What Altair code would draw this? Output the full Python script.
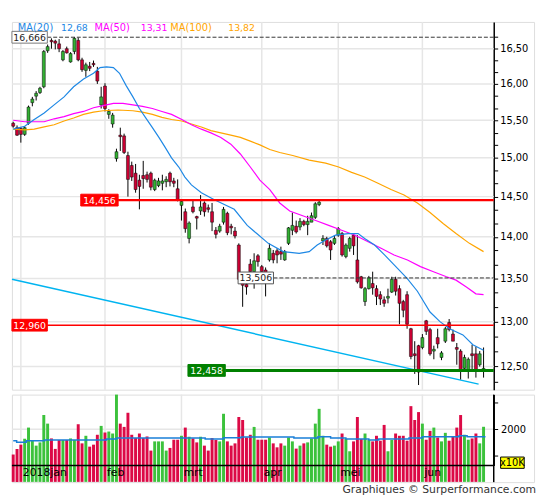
import altair as alt
import pandas as pd

# ---------------- data ----------------
opens = [15.46, 15.40, 15.39, 15.31, 15.46, 15.74, 15.83, 15.88, 15.96, 16.47,
         16.62, 16.61, 16.57, 16.34, 16.50, 16.31, 16.46, 16.62, 16.34, 16.19,
         16.25, 16.29, 16.18, 15.71, 15.97, 15.58, 15.45, 14.99, 15.30, 15.29,
         15.03, 14.90, 14.80, 14.71, 14.77, 14.78, 14.80, 14.59, 14.64, 14.67,
         14.69, 14.80, 14.70, 14.60, 14.39, 14.31, 13.98, 14.37, 14.25, 14.32,
         14.42, 14.36, 14.31, 14.08, 14.07, 14.18, 14.29, 14.13, 14.07, 13.90,
         13.47, 13.43, 13.67, 13.58, 13.77, 13.64, 13.60, 13.72, 13.80, 13.83,
         13.82, 13.72, 13.92, 14.08, 14.13, 14.12, 14.19, 14.15, 14.18, 14.24,
         14.40, 13.95, 13.98, 13.94, 13.92, 14.02, 14.04, 13.76, 13.86, 14.02,
         13.72, 13.52, 13.23, 13.38, 13.44, 13.38, 13.31, 13.25, 13.27, 13.34,
         13.49, 13.38, 13.23, 13.31, 12.92, 12.64, 12.73, 12.71, 13.01, 12.91,
         12.67, 12.82, 12.60, 12.78, 12.99, 12.86, 12.71, 12.67, 12.48, 12.45,
         12.64, 12.64, 12.52, 12.45]
highs = [15.48, 15.43, 15.41, 15.42, 15.70, 15.82, 15.90, 15.96, 16.48, 16.56,
         16.65, 16.63, 16.64, 16.48, 16.53, 16.45, 16.67, 16.66, 16.37, 16.30,
         16.31, 16.33, 16.24, 15.96, 16.01, 15.65, 15.60, 15.12, 15.40, 15.32,
         15.08, 14.95, 14.92, 14.78, 14.96, 14.82, 14.82, 14.73, 14.74, 14.78,
         14.76, 14.82, 14.74, 14.72, 14.47, 14.35, 14.19, 14.46, 14.26, 14.52,
         14.44, 14.40, 14.42, 14.12, 14.16, 14.37, 14.31, 14.16, 14.12, 13.92,
         13.52, 13.50, 13.73, 13.80, 13.79, 13.66, 13.63, 13.92, 13.84, 13.86,
         13.88, 13.84, 14.12, 14.30, 14.20, 14.23, 14.21, 14.26, 14.30, 14.43,
         14.46, 14.02, 14.00, 13.96, 14.02, 14.12, 14.06, 13.92, 14.00, 14.04,
         14.02, 13.53, 13.40, 13.53, 13.58, 13.42, 13.35, 13.29, 13.38, 13.52,
         13.52, 13.42, 13.25, 13.35, 12.93, 12.78, 12.74, 12.86, 13.02, 12.93,
         12.73, 12.92, 12.67, 12.94, 13.03, 12.91, 12.76, 12.69, 12.63, 12.60,
         12.74, 12.72, 12.67, 12.71]
lows = [15.40, 15.29, 15.20, 15.29, 15.44, 15.69, 15.77, 15.86, 15.94, 16.44,
        16.50, 16.49, 16.45, 16.32, 16.43, 16.30, 16.42, 16.32, 16.17, 16.10,
        16.18, 16.24, 16.00, 15.66, 15.62, 15.52, 15.40, 14.95, 15.09, 15.05,
        14.50, 14.70, 14.55, 14.34, 14.60, 14.68, 14.58, 14.57, 14.62, 14.58,
        14.62, 14.63, 14.62, 14.44, 14.20, 14.05, 13.92, 14.29, 14.09, 14.27,
        14.25, 14.30, 14.07, 13.98, 14.05, 14.15, 14.02, 14.03, 13.98, 13.48,
        13.17, 13.31, 13.50, 13.38, 13.64, 13.52, 13.29, 13.70, 13.68, 13.68,
        13.72, 13.71, 13.90, 14.02, 14.04, 14.08, 14.13, 14.02, 14.18, 14.22,
        14.38, 13.90, 13.87, 13.72, 13.90, 14.00, 13.76, 13.74, 13.82, 13.78,
        13.44, 13.38, 13.18, 13.37, 13.31, 13.19, 13.19, 13.17, 13.21, 13.33,
        13.30, 12.97, 13.05, 12.92, 12.58, 12.42, 12.30, 12.69, 12.85, 12.62,
        12.58, 12.70, 12.57, 12.76, 12.89, 12.78, 12.52, 12.36, 12.47, 12.37,
        12.45, 12.38, 12.50, 12.38]
closes = [15.42, 15.30, 15.31, 15.40, 15.68, 15.79, 15.87, 15.94, 16.46, 16.53,
          16.60, 16.58, 16.50, 16.46, 16.44, 16.43, 16.65, 16.34, 16.20, 16.27,
          16.22, 16.27, 16.04, 15.82, 15.66, 15.62, 15.57, 15.08, 15.28, 15.07,
          14.72, 14.75, 14.59, 14.63, 14.73, 14.72, 14.62, 14.71, 14.70, 14.70,
          14.72, 14.69, 14.67, 14.46, 14.44, 14.10, 14.17, 14.31, 14.23, 14.37,
          14.31, 14.34, 14.18, 14.03, 14.13, 14.34, 14.05, 14.11, 14.01, 13.49,
          13.42, 13.40, 13.58, 13.71, 13.70, 13.58, 13.52, 13.86, 13.72, 13.78,
          13.79, 13.82, 14.11, 14.14, 14.06, 14.19, 14.15, 14.19, 14.26, 14.41,
          14.43, 13.98, 13.89, 13.84, 13.98, 14.10, 13.78, 13.90, 13.98, 13.89,
          13.46, 13.39, 13.38, 13.51, 13.39, 13.29, 13.26, 13.21, 13.29, 13.49,
          13.35, 13.21, 13.13, 12.97, 12.61, 12.62, 12.44, 12.82, 12.89, 12.64,
          12.69, 12.75, 12.65, 12.92, 12.91, 12.78, 12.69, 12.46, 12.60, 12.58,
          12.62, 12.45, 12.64, 12.48]
volumes = [1038, 1251, 1412, 1637, 2060, 1562, 1375, 1498, 2536, 2210,
           1648, 1251, 1588, 1588, 1588, 1648, 1588, 2187, 1461, 1749,
           1337, 1412, 1787, 2124, 1873, 1910, 1835, 3311, 2210, 2086,
           2622, 1787, 1663, 1835, 1663, 1723, 1187, 1536, 1536, 1536,
           1187, 1288, 1599, 1599, 1749, 2060, 1712, 1648, 1498, 1712,
           1375, 1187, 1663, 1588, 1536, 2584, 1536, 1375, 1461, 2461,
           2348, 1685, 1787, 2086, 1599, 1599, 1599, 1685, 1461, 1311,
           1461, 1375, 1685, 1536, 1262, 1375, 1461, 1498, 1648, 2210,
           2771, 1749, 1412, 1337, 1375, 1536, 1835, 1626, 1161, 1536,
           2461, 1626, 1835, 1588, 1536, 1749, 1562, 2161, 1161, 1588,
           1835, 1749, 1749, 1562, 2873, 2348, 2648, 2210, 1599, 1936,
           2060, 1685, 1536, 1861, 1562, 1712, 2060, 2536, 1787, 1599,
           1648, 1835, 1461, 2090]

ma20_idx = [0, 3, 5.5, 8.1, 10.7, 13.3, 15.8, 18.4, 21, 22.7, 24.4, 26.2, 27.8, 29.5,
            31.3, 33, 34.7, 36.4, 38.1, 39.7, 41.4, 43.3, 44.9, 46.6, 49.2, 52.6, 57.8,
            61.2, 63.7, 66.7, 70.6, 74.8, 77.4, 79.5, 81.7, 84.3, 87.6, 90.2, 91.9, 94.5,
            97.1, 100.5, 103, 105.7, 109, 111.6, 114.1, 117.6, 120.2, 123]
ma20_val = [15.38, 15.42, 15.51, 15.60, 15.71, 15.82, 15.96, 16.07, 16.15, 16.23, 16.24,
            16.23, 16.15, 15.98, 15.82, 15.66, 15.53, 15.40, 15.27, 15.14, 15.00, 14.88,
            14.75, 14.65, 14.55, 14.46, 14.34, 14.14, 14.04, 13.92, 13.82, 13.80, 13.82,
            13.90, 13.96, 14.02, 14.04, 14.04, 13.98, 13.90, 13.78, 13.62, 13.50, 13.35,
            13.11, 13.00, 12.92, 12.85, 12.74, 12.68]
ma50_idx = [0, 3, 8.1, 10.7, 13.3, 15.8, 18.4, 21, 23.5, 26.2, 28.7, 31.3, 33.8, 36.4,
            38.9, 41.4, 44.1, 46.6, 49.2, 51.7, 54.3, 56.9, 59.4, 62, 64.5, 67.1, 69.7,
            72.3, 75.7, 79.1, 82.5, 85.9, 89.4, 92.8, 96.2, 99.6, 103.1, 106.5, 109.9,
            113.3, 115.8, 118.5, 121, 123]
ma50_val = [15.50, 15.48, 15.48, 15.52, 15.55, 15.59, 15.62, 15.67, 15.70, 15.73, 15.73,
            15.71, 15.69, 15.66, 15.62, 15.58, 15.51, 15.44, 15.38, 15.33, 15.27, 15.18,
            15.05, 14.88, 14.71, 14.59, 14.42, 14.32, 14.26, 14.20, 14.14, 14.08, 14.02,
            13.94, 13.86, 13.78, 13.72, 13.64, 13.58, 13.52, 13.48, 13.40, 13.32, 13.31]
ma100_idx = [0, 3, 5.5, 8.1, 10.7, 13.3, 15.8, 18.4, 21, 23.5, 27.4, 31.3, 33.8, 36.4,
             38.9, 41.4, 44.1, 46.6, 49.2, 51.7, 54.3, 56.9, 59.4, 62, 64.5, 67.1, 69.7,
             73.1, 77.4, 81.7, 85.1, 88.5, 91.9, 95.4, 98.8, 102.2, 105.7, 109, 112.5,
             115.8, 119.3, 123]
ma100_val = [15.38, 15.37, 15.38, 15.41, 15.44, 15.49, 15.53, 15.58, 15.61, 15.63, 15.64,
             15.63, 15.61, 15.58, 15.54, 15.51, 15.49, 15.45, 15.41, 15.36, 15.33, 15.30,
             15.27, 15.22, 15.17, 15.11, 15.07, 15.03, 14.97, 14.93, 14.88, 14.81, 14.75,
             14.67, 14.59, 14.52, 14.42, 14.30, 14.16, 14.04, 13.92, 13.82]

volma_idx = [0, 0.9, 3.4, 8.2, 24.4, 27, 50.2, 55, 59.6, 73.4, 79.7, 83, 87, 93,
             95.6, 103.5, 107, 116.6, 118.7, 123.5]
volma_val = [1560, 1500, 1562, 1588, 1626, 1663, 1626, 1670, 1700, 1663, 1712, 1663,
             1626, 1588, 1626, 1663, 1712, 1750, 1712, 1712]

trend_idx = [-0.33, 121.7]
trend_val = [13.49, 12.31]

ma_names = ["MA(20)", "MA(50)", "MA(100)"]
ma_last = ["12,68", "13,31", "13,82"]

levels = [16.666, 14.456, 12.960, 12.458, 13.506]

month_idx = [2, 24, 44, 65, 85, 107]
month_lbl = ["2018jan", "feb", "mrt", "apr", "mei", "jun"]

price_grid = [12.5, 13.0, 13.5, 14.0, 14.5, 15.0, 15.5, 16.0, 16.5]
vol_ticks = [1000, 2000, 3000]
vol_grid = [2000]

# ---------------- layout / style ----------------
FONT = "DejaVu Sans"
VIEW_W = 531
PLOT_W = 490
MAIN_H = 374
VOL_H = 89
VOL_PLOT_H = 72
RED = "#cc0033"
GREEN = "#33b033"
VRED = "#dc0a46"
VGREEN = "#3cc23c"
GRID = "#e6e6e6"
C20, C50, C100 = "#1e88e5", "#ff00ff", "#ffa500"

df = pd.DataFrame({"i": list(range(len(closes))), "open": opens, "high": highs,
                   "low": lows, "close": closes, "vol": volumes})
one = pd.DataFrame({"k": [0]})

x_scale = alt.Scale(domain=[-0.334, 125.66], range=[0, PLOT_W], nice=False, zero=False, padding=0)
y_scale = alt.Scale(type="log", domain=[12.25, 16.89], nice=False, zero=False, padding=0)

tick_vals = [round(12.5 + k / 6.0, 4) for k in range(-1, 26)]
y_axis = alt.Axis(orient="right", offset=-(VIEW_W - PLOT_W), values=tick_vals,
                  labelExpr="abs(datum.value*2 - round(datum.value*2)) < 0.01 ? "
                            "replace(format(datum.value, '.2f'), '.', ',') : ''",
                  grid=False, domain=True, domainColor="#000", domainWidth=1.5,
                  ticks=True, tickColor="#000", tickSize=4, tickWidth=1,
                  labelFont=FONT, labelFontSize=10, labelColor="#000",
                  labelPadding=2, labelOverlap=False, title=None)

X = lambda f: alt.X(f, scale=x_scale, axis=None)
Y = lambda f: alt.Y(f, scale=y_scale, axis=y_axis)

# ---- main panel ----
hgrid = alt.Chart(pd.DataFrame({"p": price_grid})).mark_rule(color=GRID, strokeWidth=1.5).encode(
    y=Y("p:Q"), x=alt.value(0), x2=alt.value(PLOT_W))
vgrid = alt.Chart(pd.DataFrame({"m": month_idx})).mark_rule(color=GRID, strokeWidth=1.5).encode(
    x=X("m:Q"), y=alt.value(0), y2=alt.value(MAIN_H))
trend = alt.Chart(pd.DataFrame({"i": trend_idx, "p": trend_val})).mark_line(
    color="#00b4f0", strokeWidth=1.5).encode(x=X("i:Q"), y=Y("p:Q"))

def ma_line(idx, val, color):
    return alt.Chart(pd.DataFrame({"i": idx, "p": val})).mark_line(
        color=color, strokeWidth=1.2).encode(x=X("i:Q"), y=Y("p:Q"))

wicks = alt.Chart(df).mark_rule(color="#000", strokeWidth=1).encode(
    x=X("i:Q"), y=Y("low:Q"), y2="high:Q")
bodies = alt.Chart(df).mark_bar(size=3, stroke="#000", strokeWidth=0.5).encode(
    x=X("i:Q"), y=Y("open:Q"), y2="close:Q",
    fill=alt.condition("datum.close >= datum.open", alt.value(GREEN), alt.value(RED)))

# level lines: (box start px, box end px, line color, width, dash, box fill, box stroke, text color)
level_style = [
    (0, 36, "#333", 1, [4, 2], "#ffffff", "#777", "#222"),
    (70, 108, "#ff0000", 2.5, [], "#ff0000", "#ff0000", "#ffffff"),
    (0, 36, "#ff0000", 1.5, [], "#ff0000", "#ff0000", "#ffffff"),
    (179, 217, "#008000", 3, [], "#008000", "#008000", "#ffffff"),
    (230, 266, "#333", 1, [4, 2], "#ffffff", "#555", "#222"),
]
level_layers = []
label_layers = []
for lvl, (bx0, bx1, lc, lw, dash, bf, bs, tc) in zip(levels, level_style):
    ldf = pd.DataFrame({"lvl": [lvl], "txt": [f"{lvl:.3f}".replace(".", ",")]})
    rule_kw = dict(color=lc, strokeWidth=lw)
    if dash:
        rule_kw["strokeDash"] = dash
    level_layers.append(alt.Chart(ldf).mark_rule(**rule_kw).encode(
        y=Y("lvl:Q"), x=alt.value(bx1), x2=alt.value(PLOT_W)))
    label_layers.append(alt.Chart(ldf).mark_rect(
        fill=bf, stroke=bs, strokeWidth=1, yOffset=-6, y2Offset=6).encode(
        y=Y("lvl:Q"), y2="lvl:Q", x=alt.value(bx0), x2=alt.value(bx1)))
    label_layers.append(alt.Chart(ldf).mark_text(
        font=FONT, fontSize=9.5, color=tc, align="center", baseline="middle", dy=0.5).encode(
        y=Y("lvl:Q"), x=alt.value((bx0 + bx1) / 2), text="txt:N"))

legend_x = [(6, 50), (84, 131), (161, 220)]
legend_c = [C20, C50, C100]
legend_layers = []
for name, last, (xa, xb), col in zip(ma_names, ma_last, legend_x, legend_c):
    ldf = pd.DataFrame({"n": [name], "v": [last]})
    legend_layers.append(alt.Chart(ldf).mark_text(
        font=FONT, fontSize=10, color=col, align="left", baseline="middle").encode(
        x=alt.value(xa), y=alt.value(6), text="n:N"))
    legend_layers.append(alt.Chart(ldf).mark_text(
        font=FONT, fontSize=9.5, color=col, align="left", baseline="middle").encode(
        x=alt.value(xb), y=alt.value(6), text="v:N"))

main = alt.layer(
    hgrid, vgrid, trend, wicks, bodies,
    ma_line(ma100_idx, ma100_val, C100),
    ma_line(ma50_idx, ma50_val, C50),
    ma_line(ma20_idx, ma20_val, C20),
    *level_layers, *label_layers, *legend_layers,
).properties(width=VIEW_W, height=MAIN_H)

# ---- volume panel ----
v_scale = alt.Scale(domain=[625, 3311], range=[VOL_PLOT_H, 0], nice=False, zero=False, padding=0)
v_axis = alt.Axis(orient="right", offset=-(VIEW_W - PLOT_W), values=vol_ticks,
                  labelExpr="datum.value == 2000 ? '2000' : ''",
                  grid=False, domain=True, domainColor="#000", domainWidth=1.5,
                  ticks=True, tickColor="#000", tickSize=4,
                  labelFont=FONT, labelFontSize=10, labelColor="#000",
                  labelPadding=3, labelOverlap=False, title=None)
VY = lambda f: alt.Y(f, scale=v_scale, axis=v_axis)

v_hgrid = alt.Chart(pd.DataFrame({"g": vol_grid})).mark_rule(color=GRID, strokeWidth=1.5).encode(
    y=VY("g:Q"), x=alt.value(0), x2=alt.value(PLOT_W))
v_vgrid = alt.Chart(pd.DataFrame({"m": month_idx})).mark_rule(color=GRID, strokeWidth=1.5).encode(
    x=X("m:Q"), y=alt.value(0), y2=alt.value(VOL_PLOT_H))
v_bars = alt.Chart(df).mark_bar(size=3).encode(
    x=X("i:Q"), y=VY("vol:Q"), y2=alt.value(VOL_PLOT_H),
    fill=alt.condition("datum.close >= datum.open", alt.value(VGREEN), alt.value(VRED)))
v_ma = alt.Chart(pd.DataFrame({"i": volma_idx, "v": volma_val})).mark_line(
    interpolate="step-after", color="#1a7fd8", strokeWidth=1.5).encode(x=X("i:Q"), y=VY("v:Q"))
v_base = alt.Chart(one).mark_rule(color="#000", strokeWidth=1.5).encode(
    x=alt.value(0), x2=alt.value(PLOT_W), y=alt.value(VOL_PLOT_H))
v_side = alt.Chart(one).mark_rule(color="#000", strokeWidth=1.5).encode(
    x=alt.value(PLOT_W), y=alt.value(0), y2=alt.value(VOL_H))
v_months = alt.Chart(pd.DataFrame({"m": month_idx, "t": month_lbl})).mark_text(
    font=FONT, fontSize=11, color="#000", align="left", baseline="middle", dx=2).encode(
    x=X("m:Q"), y=alt.value(80), text="t:N")
unit_box = alt.Chart(one).mark_rect(fill="#ffff00", stroke="#000", strokeWidth=1).encode(
    x=alt.value(PLOT_W + 7), x2=alt.value(PLOT_W + 31), y=alt.value(63.5), y2=alt.value(75))
unit_txt = alt.Chart(one).mark_text(font=FONT, fontSize=10, color="#000",
                                    align="center", baseline="middle").encode(
    x=alt.value(PLOT_W + 19), y=alt.value(69.5), text=alt.value("x10K"))
footer = alt.Chart(one).mark_text(font=FONT, fontSize=11, color="#333",
                                  align="right", baseline="middle").encode(
    x=alt.value(VIEW_W + 2), y=alt.value(VOL_H + 8),
    text=alt.value("Graphiques \u00a9 Surperformance.com"))

vol = alt.layer(
    v_hgrid, v_vgrid, v_bars, v_ma, v_base, v_side, v_months, unit_box, unit_txt, footer
).properties(width=VIEW_W, height=VOL_H)

chart = alt.vconcat(main, vol, spacing=1).resolve_scale(
    x="independent", y="independent"
).properties(
    padding={"left": 0, "top": 8, "right": 0, "bottom": 0}
).configure_view(stroke="#000", strokeWidth=1.5).configure(font=FONT)

chart.save("out.html", embed_options={"renderer": "svg", "actions": False})
